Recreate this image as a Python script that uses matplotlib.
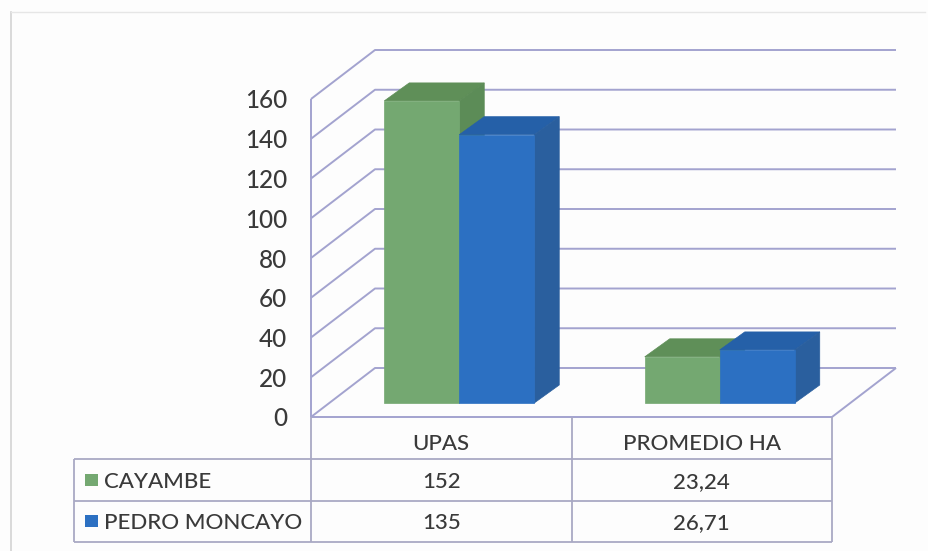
import matplotlib
matplotlib.use("Agg")
import matplotlib.pyplot as plt
from matplotlib.patches import Polygon, Rectangle

categories = ["UPAS", "PROMEDIO HA"]
series_names = ["CAYAMBE", "PEDRO MONCAYO"]
cayambe = [152, 23.24]
pedro_moncayo = [135, 26.71]
cayambe_text = ["152", "23,24"]
pedro_text = ["135", "26,71"]
y_ticks = [0, 20, 40, 60, 80, 100, 120, 140, 160]

GRID = "#a3a3cf"
TABLE = "#a9a9c4"
TEXT = "#3a3a3a"
GREEN = ("#74a871", "#5f8f58", "#5c8c57")
BLUE = ("#2c70c2", "#2560a8", "#2a5f9e")

W, H = 929, 551
fig = plt.figure(figsize=(W / 100, H / 100), dpi=100, facecolor="#fdfdfd")
# axes is the front plane of the 3d box
ax = fig.add_axes([311 / W, 1 - 417 / H, 521 / W, 318 / H])
ax.set_xlim(0, 2)
ax.set_ylim(0, 160)
ax.axis("off")
plt.rcParams["font.family"] = ["Lato", "DejaVu Sans"]
plt.rcParams["font.weight"] = 500

ux = 2 / 521      # data units per pixel
uy = 160 / 318
wall_dx, wall_dy = 64 * ux, 49 * uy
gap_dx, gap_dy = 18 * ux, 14 * uy
bar_dx, bar_dy = 25 * ux, 18 * uy
bar_w = 75 * ux
row_h = 41.5 * uy
txt_down = 2 * uy


def line(xs, ys, color=GRID, lw=1.4, z=1):
    ax.plot(xs, ys, color=color, lw=lw, zorder=z, clip_on=False, solid_capstyle="butt")


# walls and floor
for v in y_ticks:
    line([0, wall_dx, 2 + wall_dx], [v, v + wall_dy, v + wall_dy])
    ax.text(-24 * ux, v - txt_down, str(v), ha="right", va="center", fontsize=17.5, color=TEXT)
line([0, 0], [0, 160])
line([0, 2, 2 + wall_dx], [0, 0, wall_dy])


def bar3d(x0, v, colors, z):
    y0 = gap_dy
    y1 = y0 + v
    x1 = x0 + bar_w
    faces = [
        ([(x0, y1), (x1, y1), (x1 + bar_dx, y1 + bar_dy), (x0 + bar_dx, y1 + bar_dy)], colors[1]),
        ([(x1, y0), (x1 + bar_dx, y0 + bar_dy), (x1 + bar_dx, y1 + bar_dy), (x1, y1)], colors[2]),
        ([(x0, y0), (x1, y0), (x1, y1), (x0, y1)], colors[0]),
    ]
    for pts, c in faces:
        ax.add_patch(Polygon(pts, closed=True, facecolor=c, edgecolor=c, lw=0.5, zorder=z, clip_on=False))


for i in range(len(categories)):
    center = i + 0.5 + gap_dx
    bar3d(center - bar_w, cayambe[i], GREEN, 3 + i * 2)
    bar3d(center, pedro_moncayo[i], BLUE, 4 + i * 2)

# data table under the chart
left = -237 * ux
head = -42 * uy
r1 = head - row_h
r2 = r1 - row_h
for y in (head, r1, r2):
    line([left, 2], [y, y], TABLE, 1.3)
line([left, left], [head, r2], TABLE, 1.3)
for x in (0, 1, 2):
    line([x, x], [0, r2], TABLE, 1.3)

for i, name in enumerate(categories):
    ax.text(i + 0.5, head / 2 - 3 * txt_down, name, ha="center", va="center", fontsize=16, color=TEXT)
    ax.text(i + 0.5, head - row_h / 2 - txt_down, cayambe_text[i], ha="center", va="center", fontsize=16, color=TEXT)
    ax.text(i + 0.5, r1 - row_h / 2 - txt_down, pedro_text[i], ha="center", va="center", fontsize=16, color=TEXT)

for y, name, col in ((head - row_h / 2, series_names[0], GREEN[0]), (r1 - row_h / 2, series_names[1], BLUE[0])):
    ax.add_patch(Rectangle((left + 11 * ux, y - 6 * uy), 13 * ux, 12 * uy, facecolor=col, edgecolor="none", clip_on=False))
    ax.text(left + 30 * ux, y - txt_down, name, ha="left", va="center", fontsize=16, color=TEXT)

# scan border of the page
fig.add_artist(plt.Line2D([11 / W, 11 / W], [0, 1 - 12 / H], color="#d4d4d4", lw=1.2))
fig.add_artist(plt.Line2D([11 / W, 925 / W], [1 - 12 / H, 1 - 12 / H], color="#e6e6e6", lw=1))

fig.savefig("out.png", dpi=100, facecolor=fig.get_facecolor())
